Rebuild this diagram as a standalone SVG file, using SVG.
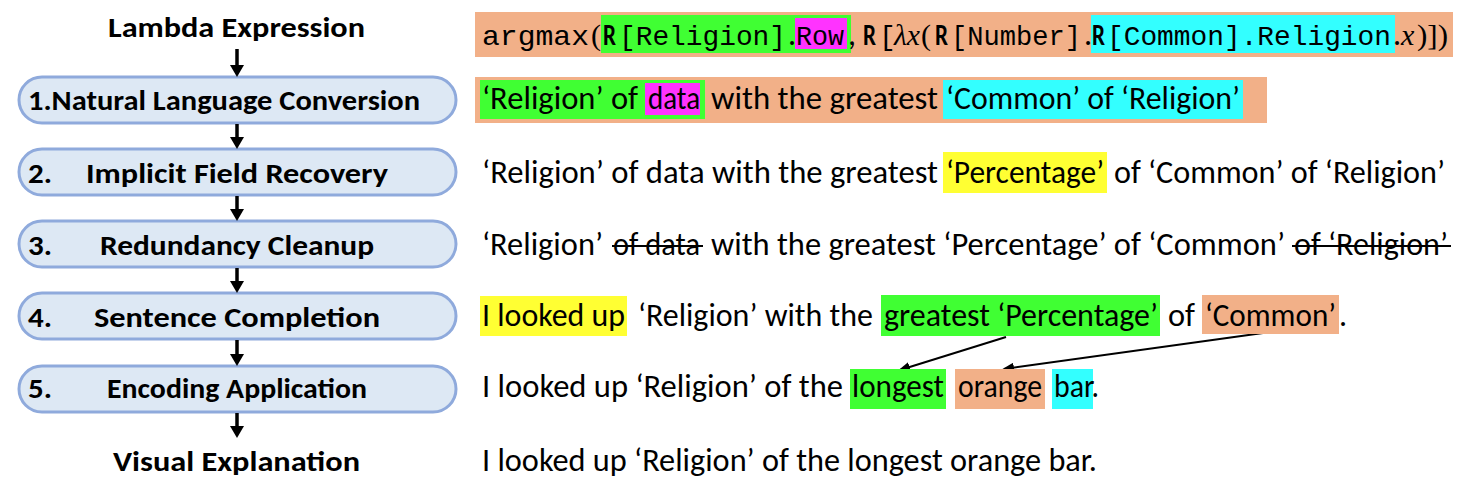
<svg xmlns="http://www.w3.org/2000/svg" width="1468" height="487" viewBox="0 0 1468 487">
<style>
.lbl{font-family:Carlito,"Open Sans",sans-serif;font-weight:bold;font-size:28px;fill:#000}
.txt{font-family:Carlito,"Open Sans",sans-serif;font-size:32px;fill:#000}
.mono{font-family:"Liberation Mono",monospace;font-size:28px}
.bold{font-family:Carlito,"Open Sans",sans-serif;font-weight:bold;font-size:31px}
.math{font-family:"Liberation Serif",serif;font-style:italic;font-size:30px}
.paren{font-family:"Liberation Serif",serif;font-size:30px}
.pill{fill:#DDE8F4;stroke:#8FAADC;stroke-width:3}
.or{fill:#F2B088}.gr{fill:#40FF33}.mg{fill:#FF33FF}.cy{fill:#33FFFF}.ye{fill:#FFFF33}
.flow{stroke:#000;stroke-width:3.5;fill:none}
.link{stroke:#000;stroke-width:2;fill:none}
.strike{stroke:#000;stroke-width:2}
</style>
<defs>
<marker id="big" viewBox="0 0 12 14" refX="0" refY="7" markerWidth="12" markerHeight="14" markerUnits="userSpaceOnUse" orient="auto">
<path d="M0,0 L12,7 L0,14 z" fill="#000"/>
</marker>
<marker id="small" viewBox="0 0 12 10" refX="10" refY="5" markerWidth="12" markerHeight="10" markerUnits="userSpaceOnUse" orient="auto">
<path d="M0,0 L12,5 L0,10 z" fill="#000"/>
</marker>
</defs>

<g id="lambda-label"><text class="lbl" x="108" y="37" textLength="257" lengthAdjust="spacingAndGlyphs">Lambda Expression</text></g>
<g id="step1"><rect class="pill" x="19" y="77" width="437" height="46" rx="23"/><text class="lbl" x="28" y="110" textLength="392" lengthAdjust="spacingAndGlyphs">1.Natural Language Conversion</text></g>
<g id="step2"><rect class="pill" x="19" y="149" width="437" height="46" rx="23"/><text class="lbl" y="183"><tspan x="28" textLength="24" lengthAdjust="spacingAndGlyphs">2.</tspan> <tspan x="86" textLength="302" lengthAdjust="spacingAndGlyphs">Implicit Field Recovery</tspan></text></g>
<g id="step3"><rect class="pill" x="19" y="221" width="437" height="46" rx="23"/><text class="lbl" y="255"><tspan x="28" textLength="24" lengthAdjust="spacingAndGlyphs">3.</tspan> <tspan x="100" textLength="274" lengthAdjust="spacingAndGlyphs">Redundancy Cleanup</tspan></text></g>
<g id="step4"><rect class="pill" x="19" y="293" width="437" height="46" rx="23"/><text class="lbl" y="327"><tspan x="28" textLength="24" lengthAdjust="spacingAndGlyphs">4.</tspan> <tspan x="94" textLength="286" lengthAdjust="spacingAndGlyphs">Sentence Completion</tspan></text></g>
<g id="step5"><rect class="pill" x="19" y="366" width="437" height="46" rx="23"/><text class="lbl" y="398"><tspan x="28" textLength="24" lengthAdjust="spacingAndGlyphs">5.</tspan> <tspan x="107" textLength="260" lengthAdjust="spacingAndGlyphs">Encoding Application</tspan></text></g>
<g id="visual-label"><text class="lbl" x="113" y="471" textLength="247" lengthAdjust="spacingAndGlyphs">Visual Explanation</text></g>

<g id="connectors">
<line class="flow" x1="237" y1="49" x2="237" y2="65" marker-end="url(#big)"/>
<line class="flow" x1="237" y1="124" x2="237" y2="137" marker-end="url(#big)"/>
<line class="flow" x1="237" y1="196" x2="237" y2="209" marker-end="url(#big)"/>
<line class="flow" x1="237" y1="268" x2="237" y2="281" marker-end="url(#big)"/>
<line class="flow" x1="237" y1="340" x2="237" y2="354" marker-end="url(#big)"/>
<line class="flow" x1="237" y1="413" x2="237" y2="426" marker-end="url(#big)"/>
<line class="link" x1="1006" y1="337" x2="900" y2="370" marker-end="url(#small)"/>
<line class="link" x1="1263" y1="333" x2="1004" y2="369" marker-end="url(#small)"/>
</g>

<g id="row0">
<rect class="or" x="475" y="12" width="978" height="45"/>
<rect class="gr" x="601" y="15" width="250" height="38"/>
<rect class="mg" x="795" y="18" width="52" height="31"/>
<rect class="cy" x="1091" y="15" width="304" height="38"/>
<text class="txt" y="45"><tspan class="mono" x="482" textLength="107" lengthAdjust="spacingAndGlyphs">argmax</tspan><tspan class="paren" x="591">(</tspan><tspan class="bold" x="603" textLength="13" lengthAdjust="spacingAndGlyphs">R</tspan><tspan class="mono" x="619" textLength="167" lengthAdjust="spacingAndGlyphs">[Religion]</tspan><tspan x="788">.</tspan><tspan class="mono" x="796" textLength="48" lengthAdjust="spacingAndGlyphs">Row</tspan><tspan x="848">,</tspan><tspan class="bold" x="863" textLength="13" lengthAdjust="spacingAndGlyphs">R</tspan><tspan class="mono" x="879">[</tspan><tspan class="math" x="894" textLength="26" lengthAdjust="spacingAndGlyphs">λx</tspan><tspan class="paren" x="921">(</tspan><tspan class="bold" x="935" textLength="13" lengthAdjust="spacingAndGlyphs">R</tspan><tspan class="mono" x="951" textLength="130" lengthAdjust="spacingAndGlyphs">[Number]</tspan><tspan x="1084">.</tspan><tspan class="bold" x="1092" textLength="13" lengthAdjust="spacingAndGlyphs">R</tspan><tspan class="mono" x="1107" textLength="284" lengthAdjust="spacingAndGlyphs">[Common].Religion</tspan><tspan x="1393">.</tspan><tspan class="math" x="1401">x</tspan><tspan class="paren" x="1417" textLength="31" lengthAdjust="spacingAndGlyphs">)])</tspan></text>
</g>

<g id="row1">
<rect class="or" x="475" y="77" width="792" height="46"/>
<rect class="gr" x="480" y="80" width="225" height="39"/>
<rect class="mg" x="645" y="83" width="55" height="32"/>
<rect class="cy" x="943" y="80" width="300" height="39"/>
<text class="txt" y="109"><tspan x="482" textLength="156" lengthAdjust="spacingAndGlyphs">‘Religion’ of</tspan> <tspan x="648" textLength="52" lengthAdjust="spacingAndGlyphs">data</tspan> <tspan x="711" textLength="227" lengthAdjust="spacingAndGlyphs">with the greatest</tspan> <tspan x="946" textLength="294" lengthAdjust="spacingAndGlyphs">‘Common’ of ‘Religion’</tspan></text>
</g>

<g id="row2">
<rect class="ye" x="943" y="152" width="164" height="41"/>
<text class="txt" y="183"><tspan x="482" textLength="456" lengthAdjust="spacingAndGlyphs">‘Religion’ of data with the greatest</tspan> <tspan x="946" textLength="158" lengthAdjust="spacingAndGlyphs">‘Percentage’</tspan> <tspan x="1114" textLength="331" lengthAdjust="spacingAndGlyphs">of ‘Common’ of ‘Religion’</tspan></text>
</g>

<g id="row3">
<text class="txt" y="255"><tspan x="482" textLength="121" lengthAdjust="spacingAndGlyphs">‘Religion’</tspan> <tspan x="613" textLength="87" lengthAdjust="spacingAndGlyphs">of data</tspan> <tspan x="711" textLength="574" lengthAdjust="spacingAndGlyphs">with the greatest ‘Percentage’ of ‘Common’</tspan> <tspan x="1294" textLength="154" lengthAdjust="spacingAndGlyphs">of ‘Religion’</tspan></text>
<line class="strike" x1="612" y1="246" x2="703" y2="246"/>
<line class="strike" x1="1292" y1="246" x2="1451" y2="246"/>
</g>

<g id="row4">
<rect class="ye" x="480" y="296" width="147" height="40"/>
<rect class="gr" x="881" y="295" width="279" height="41"/>
<rect class="or" x="1202" y="295" width="137" height="39"/>
<text class="txt" y="326"><tspan x="482" textLength="143" lengthAdjust="spacingAndGlyphs">I looked up</tspan> <tspan x="638" textLength="235" lengthAdjust="spacingAndGlyphs">‘Religion’ with the</tspan> <tspan x="884" textLength="274" lengthAdjust="spacingAndGlyphs">greatest ‘Percentage’</tspan> <tspan x="1168" textLength="27" lengthAdjust="spacingAndGlyphs">of</tspan> <tspan x="1205" textLength="131" lengthAdjust="spacingAndGlyphs">‘Common’</tspan><tspan x="1339">.</tspan></text>
</g>

<g id="row5">
<rect class="gr" x="850" y="369" width="96" height="40"/>
<rect class="or" x="955" y="369" width="90" height="40"/>
<rect class="cy" x="1052" y="369" width="41" height="40"/>
<text class="txt" y="397"><tspan x="482" textLength="361" lengthAdjust="spacingAndGlyphs">I looked up ‘Religion’ of the</tspan> <tspan x="852" textLength="92" lengthAdjust="spacingAndGlyphs">longest</tspan> <tspan x="958" textLength="84" lengthAdjust="spacingAndGlyphs">orange</tspan> <tspan x="1054" textLength="45" lengthAdjust="spacingAndGlyphs">bar.</tspan></text>
</g>

<g id="row6">
<text class="txt" x="482" y="471" textLength="615" lengthAdjust="spacingAndGlyphs">I looked up ‘Religion’ of the longest orange bar.</text>
</g>
</svg>
